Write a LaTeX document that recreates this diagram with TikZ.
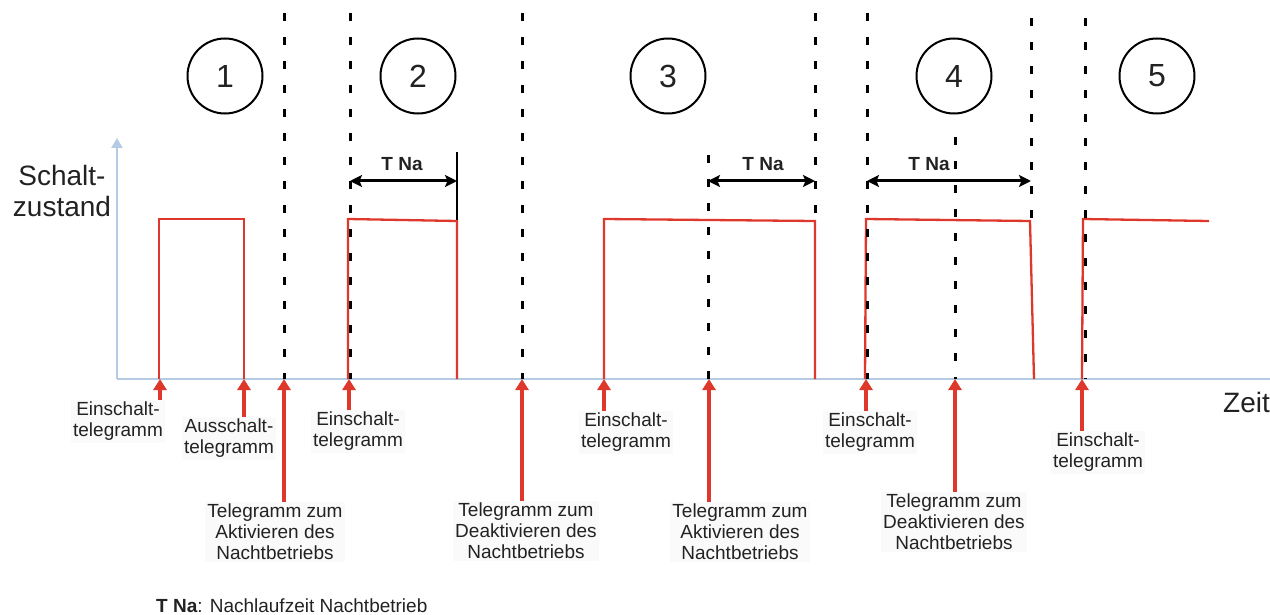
\documentclass[tikz,border=0pt]{standalone}
\usepackage{fontspec}
\setmainfont{Liberation Sans}
\usepackage{tikz}
\usetikzlibrary{
  arrows.meta,
  positioning,
  calc
}
\definecolor{pulsered}{HTML}{DE382C}
\definecolor{axisblue}{HTML}{B5CBE3}
\definecolor{darktext}{HTML}{222222}
\definecolor{labelbg}{HTML}{FAFAFA}
\tikzset{
  phasecircle/.style={
    circle, draw=black, line width=2pt, minimum size=75pt, inner sep=0pt,
    font=\fontsize{32}{36}\selectfont, text=darktext
  },
  ereignis/.style={
    anchor=north, align=center, inner sep=2pt, fill=labelbg,
    font=\fontsize{19}{21}\selectfont, text=darktext
  },
  telarrow/.style={
    -{Triangle[length=11pt,width=13pt]}, line width=3.5pt, color=pulsered
  },
  pulse/.style={
    line width=2.3pt, color=pulsered, line join=miter
  },
  grenze/.style={
    line width=3pt, dash pattern=on 8pt off 16pt
  },
  tnarrow/.style={
    {Stealth[length=12pt,width=12pt,inset=2.5pt]}-{Stealth[length=12pt,width=12pt,inset=2.5pt]},
    line width=3pt
  },
  tnlabel/.style={
    font=\fontsize{19}{21}\selectfont\bfseries, text=darktext
  },
  achse/.style={
    line width=2.8pt, color=axisblue
  },
  achsentext/.style={
    font=\fontsize{28}{31}\selectfont, text=darktext, inner sep=0pt
  },
}

\begin{document}
\begin{tikzpicture}[x=1pt, y=-1pt]
  \useasboundingbox (0,0) rectangle (1270,615);

  % Achsen
  \coordinate (origin) at (117,379);
  \coordinate (ytop) at (117,138);
  \coordinate (xend) at (1270,379);
  \draw[achse, -{Triangle[length=10pt,width=11pt]}] (origin) -- (ytop);
  \draw[achse] (origin) -- (xend);
  \node[achsentext, align=center, anchor=south] (schalt) at (62,217) {Schalt-\\zustand};
  \node[achsentext, anchor=base west] (zeit) at (1223,412) {Zeit};

  % Phasen
  \foreach \n/\x in {1/225,2/418,3/668,4/954,5/1157}
    \node[phasecircle] (phase\n) at (\x,76) {\n};

  % Schaltzustand
  \draw[pulse] (159,379) -- (159,219) -- (244,219) -- (244,379);
  \draw[pulse] (348,379) -- (348,219) -- (457,221) -- (457,379);
  \draw[pulse] (604,379) -- (604,219) -- (815,221) -- (815,379);
  \draw[pulse] (865,379) -- (866,219) -- (1030,221) -- (1034,379);
  \draw[pulse] (1082,379) -- (1083,219) -- (1209,221);

  % Grenzen
  \foreach \x/\ya/\yb in {284/13/379, 350/13/379, 522/13/379, 708/155/379,
      815/13/220, 867/13/379, 955/137/379, 1031/18/220, 1085/18/379}
    \draw[grenze] (\x,\ya) -- (\x,\yb);
  \draw[line width=2pt] (457,152) -- (457,220);

  % Nachlaufzeit
  \coordinate (tna1l) at (350,181);
  \coordinate (tna1r) at (457,181);
  \coordinate (tna2l) at (708,181);
  \coordinate (tna2r) at (815,181);
  \coordinate (tna3l) at (867,181);
  \coordinate (tna3r) at (1031,181);
  \draw[tnarrow] (tna1l) -- (tna1r);
  \draw[tnarrow] (tna2l) -- (tna2r);
  \draw[tnarrow] (tna3l) -- (tna3r);
  \node[tnlabel] (tna1) at (402,164) {T Na};
  \node[tnlabel] (tna2) at (763,164) {T Na};
  \node[tnlabel] (tna3) at (929,164) {T Na};

  % Telegramme
  \node[ereignis] (e1) at (118,400) {Einschalt-\\telegramm};
  \node[ereignis] (e2) at (229,417) {Ausschalt-\\telegramm};
  \node[ereignis] (e3) at (275,502) {Telegramm zum\\Aktivieren des\\Nachtbetriebs};
  \node[ereignis] (e4) at (358,410) {Einschalt-\\telegramm};
  \node[ereignis] (e5) at (526,501) {Telegramm zum\\Deaktivieren des\\Nachtbetriebs};
  \node[ereignis] (e6) at (626,411) {Einschalt-\\telegramm};
  \node[ereignis] (e7) at (740,502) {Telegramm zum\\Aktivieren des\\Nachtbetriebs};
  \node[ereignis] (e8) at (870,411) {Einschalt-\\telegramm};
  \node[ereignis] (e9) at (954,492) {Telegramm zum\\Deaktivieren des\\Nachtbetriebs};
  \node[ereignis] (e10) at (1098,431) {Einschalt-\\telegramm};

  \foreach \i/\x in {1/160,2/244,3/284,4/349,5/522,6/604,7/709,8/866,9/955,10/1082}{
    \coordinate (t\i) at (\x,379);
    \draw[telarrow] (t\i |- e\i.north) -- (t\i);
  }

  \node[anchor=base west, inner sep=0pt, font=\fontsize{19}{21}\selectfont, text=darktext]
    (legende) at (156,612) {\textbf{T Na}: Nachlaufzeit Nachtbetrieb};
\end{tikzpicture}
\end{document}
